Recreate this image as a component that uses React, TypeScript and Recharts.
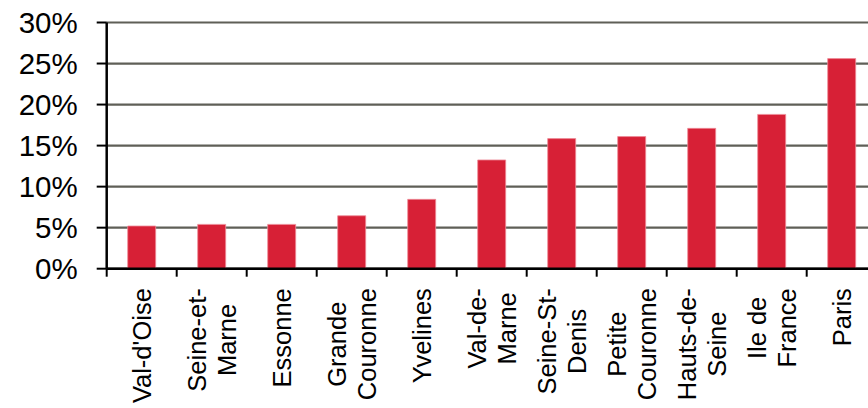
import { BarChart, Bar, XAxis, YAxis, CartesianGrid } from 'recharts'

const categories = [
  'Val-d\'Oise',
  'Seine-et-\nMarne',
  'Essonne',
  'Grande\nCouronne',
  'Yvelines',
  'Val-de-\nMarne',
  'Seine-St-\nDenis',
  'Petite\nCouronne',
  'Hauts-de-\nSeine',
  'Ile de\nFrance',
  'Paris',
]

// share in %
const shares = [5.2, 5.4, 5.4, 6.45, 8.45, 13.25, 15.85, 16.1, 17.1, 18.8, 25.6]

const yTicks = [0, 5, 10, 15, 20, 25, 30]

const data = categories.map((name, i) => ({ name, value: shares[i] }))

const FONT = '"Liberation Sans", Arial, sans-serif'
const LABEL_SIZE = 25.5
const LINE_H = 30
const BAND = 70

let ctx: CanvasRenderingContext2D | null = null
const measure = (s: string) => {
  if (!ctx) ctx = document.createElement('canvas').getContext('2d')
  if (!ctx) return s.length * LABEL_SIZE * 0.5
  ctx.font = `${LABEL_SIZE}px "Liberation Sans"`
  return ctx.measureText(s).width
}

const CategoryTick = ({ x, y, payload }: any) => {
  const lines = String(payload.value).split('\n')
  const maxW = Math.max(...lines.map(measure))
  const n = lines.length
  return (
    <g>
      <line x1={x - BAND / 2} x2={x - BAND / 2} y1={y} y2={y + 8} stroke="#000" strokeWidth={2} />
      <g transform={`translate(${x},${y}) rotate(-90)`}>
        {lines.map((l, i) => (
          <text
            key={i}
            x={-(19.5 + maxW / 2)}
            y={(i - (n - 1) / 2) * LINE_H + LABEL_SIZE * 0.36}
            textAnchor="middle"
            fontSize={LABEL_SIZE}
            fontFamily={FONT}
            fill="#000"
          >
            {l}
          </text>
        ))}
      </g>
    </g>
  )
}

export default function App() {
  return (
    <div
      style={{
        position: 'absolute',
        left: 0,
        top: 0,
        width: 868,
        height: 408,
        overflow: 'hidden',
        background: '#fff',
      }}
    >
      <BarChart
        width={888}
        height={408}
        data={data}
        margin={{ top: 22.5, right: 11.3, left: 0, bottom: 0 }}
        barSize={28}
      >
        <CartesianGrid vertical={false} stroke="#5f5f57" strokeWidth={2.2} />
        <XAxis
          dataKey="name"
          interval={0}
          tickSize={0}
          tickMargin={0}
          tickLine={false}
          axisLine={{ stroke: '#000', strokeWidth: 2.5 }}
          tick={<CategoryTick />}
          height={139.3}
        />
        <YAxis
          width={106.7}
          domain={[0, 30]}
          ticks={yTicks}
          interval={0}
          tickFormatter={(v) => `${v}%`}
          tickSize={10}
          tickMargin={19}
          tickLine={{ stroke: '#000', strokeWidth: 2 }}
          axisLine={{ stroke: '#000', strokeWidth: 2.5 }}
          tick={{ fill: '#000', fontSize: 29.5, fontFamily: FONT }}
        />
        <Bar
          dataKey="value"
          fill="#d72036"
          stroke="#ee8c98"
          strokeWidth={0.8}
          isAnimationActive={false}
        />
      </BarChart>
    </div>
  )
}
